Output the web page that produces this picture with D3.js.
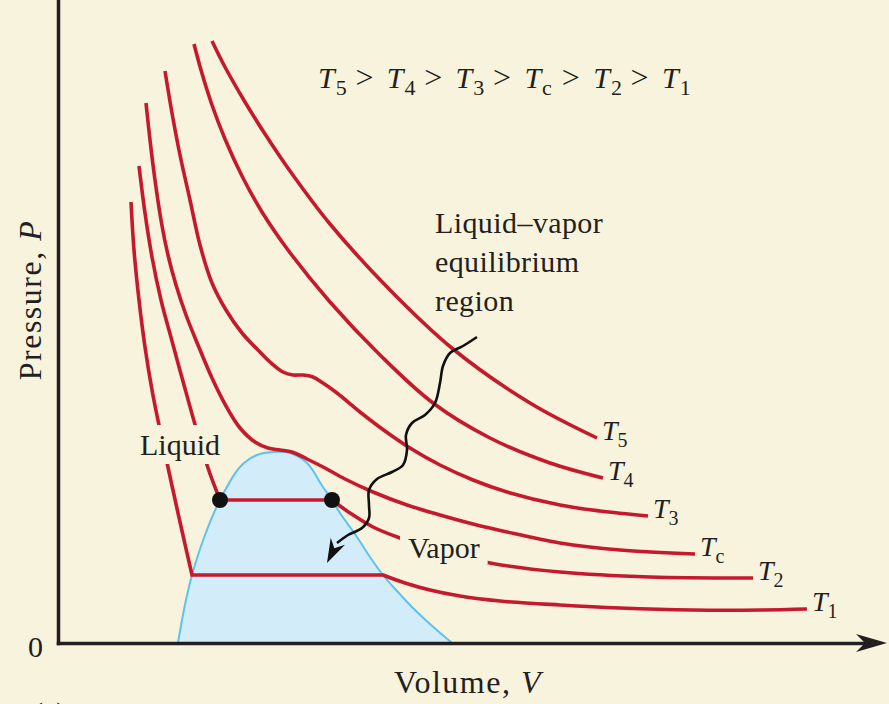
<!DOCTYPE html>
<html>
<head>
<meta charset="utf-8">
<script src="https://cdn.jsdelivr.net/npm/d3@7"></script>
<style>
  html, body { margin: 0; padding: 0; background: #f8f3dc; }
  svg { display: block; }
  text { font-family: "Liberation Serif", "Times New Roman", serif; fill: #231f20; }
</style>
</head>
<body>
<svg id="chart" width="889" height="704"></svg>
<script>
// ---------- data: isotherms of a real substance, pressure P vs volume V (arbitrary units) ----------
const T5 = [[1.54,6.02],[1.67,5.76],[1.87,5.41],[2.07,5.09],[2.32,4.72],[2.72,4.19],[3.32,3.53],[3.95,2.94],[4.72,2.40],[5.39,2.05]];
const T4 = [[1.36,5.99],[1.43,5.73],[1.54,5.38],[1.67,5.04],[1.84,4.67],[2.04,4.31],[2.30,3.93],[2.72,3.41],[3.22,2.88],[3.75,2.40],[4.32,2.05],[4.92,1.80],[5.45,1.65]];
const T3 = [[1.07,5.72],[1.14,5.30],[1.22,4.88],[1.32,4.43],[1.42,3.98],[1.54,3.60],[1.68,3.33],[1.84,3.10],[2.00,2.93],[2.12,2.81],[2.25,2.71],[2.35,2.68],[2.45,2.68],[2.55,2.66],[2.65,2.60],[2.79,2.50],[3.02,2.31],[3.27,2.12],[3.52,1.95],[3.82,1.78],[4.15,1.63],[4.49,1.51],[5.02,1.38],[5.42,1.32],[5.90,1.27]];
const Tc = [[0.88,5.40],[0.92,5.03],[0.97,4.63],[1.03,4.23],[1.10,3.88],[1.18,3.58],[1.28,3.28],[1.40,2.98],[1.54,2.65],[1.68,2.37],[1.82,2.15],[1.97,2.01],[2.10,1.95],[2.22,1.93],[2.34,1.91],[2.49,1.84],[2.67,1.75],[2.87,1.64],[3.15,1.51],[3.49,1.38],[3.82,1.28],[4.15,1.19],[4.49,1.11],[5.02,1.00],[5.62,0.93],[6.37,0.89]];
// below Tc each isotherm has a liquid branch and a vapor branch joined by a flat tie line
const T2_liquid = [[0.81,4.77],[0.87,4.30],[0.94,3.86],[1.03,3.43],[1.14,3.02],[1.26,2.58],[1.38,2.15],[1.50,1.75],[1.62,1.43]];
const T2_vapor  = [[2.74,1.43],[2.92,1.30],[3.15,1.16],[3.42,1.05],[3.87,0.91],[4.32,0.80],[5.02,0.71],[5.92,0.66],[6.95,0.65]];
const T1_liquid = [[0.73,4.41],[0.76,3.93],[0.81,3.43],[0.87,2.96],[0.94,2.53],[1.02,2.13],[1.11,1.71],[1.22,1.21],[1.34,0.68]];
const T1_vapor  = [[3.25,0.68],[3.47,0.60],[3.72,0.53],[4.02,0.47],[4.42,0.42],[5.02,0.38],[5.62,0.35],[6.35,0.33],[7.02,0.33],[7.49,0.34]];
// boundary of the liquid–vapor coexistence region
const dome = [[1.20,0],[1.24,0.23],[1.28,0.43],[1.34,0.68],[1.47,1.08],[1.62,1.43],[1.82,1.76],[1.99,1.88],[2.15,1.91],[2.32,1.90],[2.49,1.80],[2.65,1.56],[2.74,1.43],[2.82,1.30],[2.99,1.06],[3.12,0.86],[3.25,0.68],[3.39,0.52],[3.54,0.36],[3.72,0.19],[3.94,0]];
// squiggly pointer from the "Liquid–vapor equilibrium region" note into the dome
const pointer = [[4.19,3.06],[4.05,2.97],[3.92,2.90],[3.85,2.77],[3.82,2.60],[3.77,2.40],[3.67,2.28],[3.54,2.20],[3.48,2.08],[3.49,1.93],[3.45,1.78],[3.34,1.71],[3.19,1.64],[3.11,1.53],[3.11,1.38],[3.11,1.25],[3.04,1.15],[2.90,1.08],[2.79,1.00]];
const pointerTip = [2.69,0.80];
// temperature subscripts, hottest first
const tempOrder = ["5","4","3","c","2","1"];

const isotherms = [
  { sub: "5", branches: [T5] },
  { sub: "4", branches: [T4] },
  { sub: "3", branches: [T3] },
  { sub: "c", branches: [Tc] },
  { sub: "2", branches: [T2_liquid, T2_vapor] },
  { sub: "1", branches: [T1_liquid, T1_vapor] }
];

// ---------- layout ----------
const width = 889, height = 704;
const BG = "#f8f3dc", RED = "#c5192d", INK = "#231f20";
const x = d3.scaleLinear().domain([0, 8.3]).range([58, 888]);
const y = d3.scaleLinear().domain([0, 6.43]).range([643, 0]);

const svg = d3.select("#chart");
svg.append("rect").attr("width", width).attr("height", height).attr("fill", BG);

const smooth = d3.line().x(d => x(d[0])).y(d => y(d[1])).curve(d3.curveCatmullRom.alpha(0.5));

// coexistence region
svg.append("path").datum(dome)
  .attr("d", d3.area().x(d => x(d[0])).y0(y(0)).y1(d => y(d[1])).curve(d3.curveCatmullRom.alpha(0.5)))
  .attr("fill", "#d3ecf9");
svg.append("path").datum(dome)
  .attr("d", smooth)
  .attr("fill", "none").attr("stroke", "#5cc3ee").attr("stroke-width", 2);

// axes
const yAxis = d3.axisLeft(y).tickValues([0]).tickFormat(d3.format("d"))
  .tickSize(0).tickPadding(15).tickSizeOuter(0);
const gy = svg.append("g").attr("transform", `translate(${x(0)},0)`).call(yAxis);
gy.select(".domain").attr("stroke", INK).attr("stroke-width", 3.5).attr("stroke-linecap", "square");
gy.selectAll(".tick text").attr("font-size", 30).attr("dy", "0.45em");

const xAxisScale = d3.scaleLinear().domain([0, 8.1]).range([x(0), x(8.1)]);
const gx = svg.append("g").attr("transform", `translate(0,${y(0)})`)
  .call(d3.axisBottom(xAxisScale).tickValues([]).tickSizeOuter(0));
gx.select(".domain").attr("stroke", INK).attr("stroke-width", 3.5).attr("stroke-linecap", "square");

function arrowHead(base, tip, halfW, notch) {
  const dx = tip[0] - base[0], dy = tip[1] - base[1];
  const len = Math.hypot(dx, dy), ux = dx / len, uy = dy / len;
  const px = -uy, py = ux;
  return [
    tip,
    [base[0] + px * halfW - ux * 2, base[1] + py * halfW - uy * 2],
    [base[0] + ux * notch, base[1] + uy * notch],
    [base[0] - px * halfW - ux * 2, base[1] - py * halfW - uy * 2]
  ];
}
svg.append("path")
  .attr("d", d3.line()(arrowHead([x(8.0), y(0)], [x(8.29), y(0)], 9, 7)) + "Z")
  .attr("fill", INK);

// isotherms
const gIso = svg.append("g").attr("fill", "none").attr("stroke", RED)
  .attr("stroke-width", 3.6).attr("stroke-linejoin", "miter").attr("stroke-linecap", "butt");
isotherms.forEach(iso => {
  let d = smooth(iso.branches[0]);
  if (iso.branches.length === 2) {
    // tie line at the vapor pressure, then the vapor branch
    d += smooth(iso.branches[1]).replace(/^M/, "L");
  }
  gIso.append("path").attr("d", d);
});

// saturated liquid / saturated vapor states on T2
const satPoints = [T2_liquid[T2_liquid.length - 1], T2_vapor[0]];
svg.selectAll("circle.sat").data(satPoints).join("circle")
  .attr("class", "sat")
  .attr("cx", d => x(d[0])).attr("cy", d => y(d[1])).attr("r", 8).attr("fill", "#111");

// squiggly pointer
svg.append("path").datum(pointer).attr("d", smooth)
  .attr("fill", "none").attr("stroke", "#111").attr("stroke-width", 2.6);
const pEnd = pointer[pointer.length - 1];
svg.append("path")
  .attr("d", d3.line()(arrowHead([x(pEnd[0]), y(pEnd[1])], [x(pointerTip[0]), y(pointerTip[1])], 8, 6)) + "Z")
  .attr("fill", "#111");

// isotherm labels at the right end of each curve
isotherms.forEach(iso => {
  const br = iso.branches[iso.branches.length - 1];
  const last = br[br.length - 1];
  const t = svg.append("text")
    .attr("x", x(last[0]) + 5).attr("y", y(last[1]) + 2).attr("font-size", 28);
  t.append("tspan").attr("font-style", "italic").text("T");
  t.append("tspan").attr("font-size", 20).attr("dy", 7).text(iso.sub);
});

// labels that interrupt the curves they sit on
function knockoutLabel(txt, lx, ly, size, padX, padY) {
  const g = svg.append("g");
  const r = g.append("rect").attr("fill", BG);
  const t = g.append("text").attr("x", lx).attr("y", ly).attr("font-size", size).text(txt);
  const bb = t.node().getBBox();
  r.attr("x", bb.x - padX).attr("y", bb.y - padY)
   .attr("width", bb.width + 2 * padX).attr("height", bb.height + 2 * padY);
}
knockoutLabel("Liquid", 140, 455, 30, 3, 3);
knockoutLabel("Vapor", 408, 558, 30, 8, 0);

// note about the coexistence region
const note = svg.append("text").attr("x", 435).attr("font-size", 30).attr("letter-spacing", 0.4);
["Liquid–vapor", "equilibrium", "region"].forEach((s, i) =>
  note.append("tspan").attr("x", 435).attr("y", 233 + i * 39).text(s));

// temperature ordering  T5 > T4 > T3 > Tc > T2 > T1
const termX = d3.scalePoint().domain(tempOrder).range([318, 662]);
tempOrder.forEach((s, i) => {
  const t = svg.append("text").attr("x", termX(s)).attr("y", 88).attr("font-size", 30);
  t.append("tspan").attr("font-style", "italic").text("T");
  t.append("tspan").attr("font-size", 22).attr("dy", 7).attr("dx", 1).text(s);
  if (i < tempOrder.length - 1) {
    svg.append("text")
      .attr("x", (termX(s) + termX(tempOrder[i + 1])) / 2 + 12).attr("y", 88)
      .attr("text-anchor", "middle").attr("font-size", 32).text(">");
  }
});

// axis titles
const xt = svg.append("text").attr("x", 468).attr("y", 693).attr("text-anchor", "middle")
  .attr("font-size", 32).attr("letter-spacing", 1.5);
xt.append("tspan").text("Volume, ");
xt.append("tspan").attr("font-style", "italic").text("V");

const yt = svg.append("text").attr("transform", "translate(41,300) rotate(-90)")
  .attr("text-anchor", "middle").attr("font-size", 32).attr("letter-spacing", 1.5);
yt.append("tspan").text("Pressure, ");
yt.append("tspan").attr("font-style", "italic").text("P");

// panel tag, mostly below the visible area
svg.append("text").attr("x", 33).attr("y", 723).attr("font-size", 30).text("(a)");
</script>
</body>
</html>
